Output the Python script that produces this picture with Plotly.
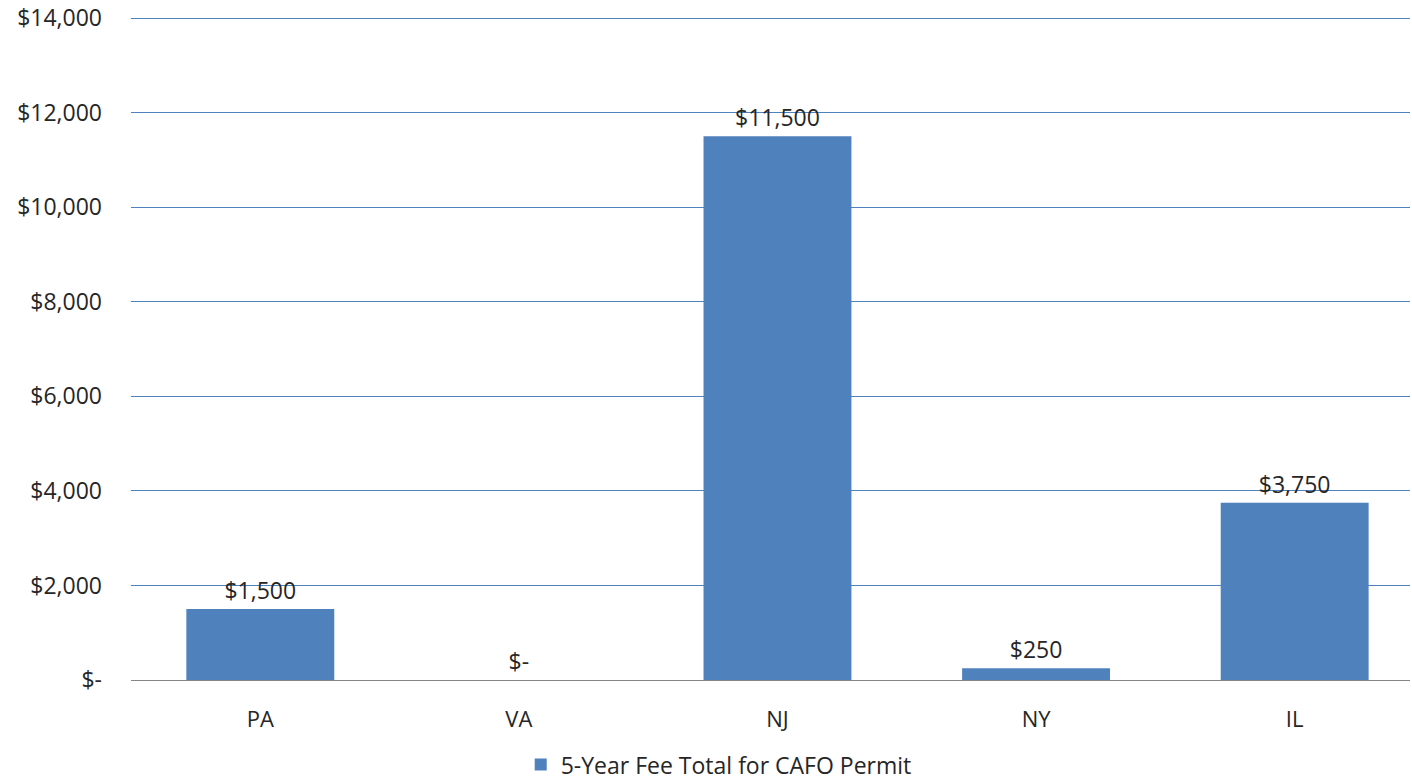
import plotly.graph_objects as go

states = ["PA", "VA", "NJ", "NY", "IL"]
fees = [1500, 0, 11500, 250, 3750]
tick_vals = [0, 2000, 4000, 6000, 8000, 10000, 12000, 14000]
tick_text = ["$-", "$2,000", "$4,000", "$6,000", "$8,000", "$10,000", "$12,000", "$14,000"]


def money(v):
    return "$-" if v == 0 else f"${v:,.0f}"


fig = go.Figure()
fig.add_trace(go.Bar(
    x=states, y=fees, name="5-Year Fee Total for CAFO Permit",
    marker=dict(color="#4F81BD", line=dict(width=0)),
    text=[money(v) for v in fees], textposition="outside",
    textfont=dict(size=23, color="#262626"), cliponaxis=False,
    width=0.572,
))

fig.update_layout(
    width=1412, height=781,
    margin=dict(l=131, r=2, t=17, b=101),
    paper_bgcolor="white", plot_bgcolor="white",
    font=dict(family="Open Sans", size=22, color="#262626"),
    showlegend=True,
    legend=dict(orientation="h", xref="container", yref="container",
                x=0.509, xanchor="center", y=0.021, yanchor="middle",
                font=dict(size=23), itemwidth=30),
)
fig.update_yaxes(range=[0, 14025], tickvals=tick_vals, ticktext=tick_text,
                 showgrid=True, gridcolor="#4F81BD", gridwidth=1,
                 zeroline=False, showline=False, ticks="", ticklabelstandoff=28,
                 tickfont=dict(size=23), automargin=False)
# the original chart is cropped on the right, so the last category is cut short
fig.update_xaxes(range=[-0.5, 4.446], showline=True, linecolor="#868686", linewidth=1,
                 ticks="", ticklabelstandoff=20, tickfont=dict(size=22), automargin=False)

# drop the default 8px body margin so the figure sits at the page origin
fig.write_html("out.html", config={"displayModeBar": False},
               post_script="document.body.style.margin='0';")
